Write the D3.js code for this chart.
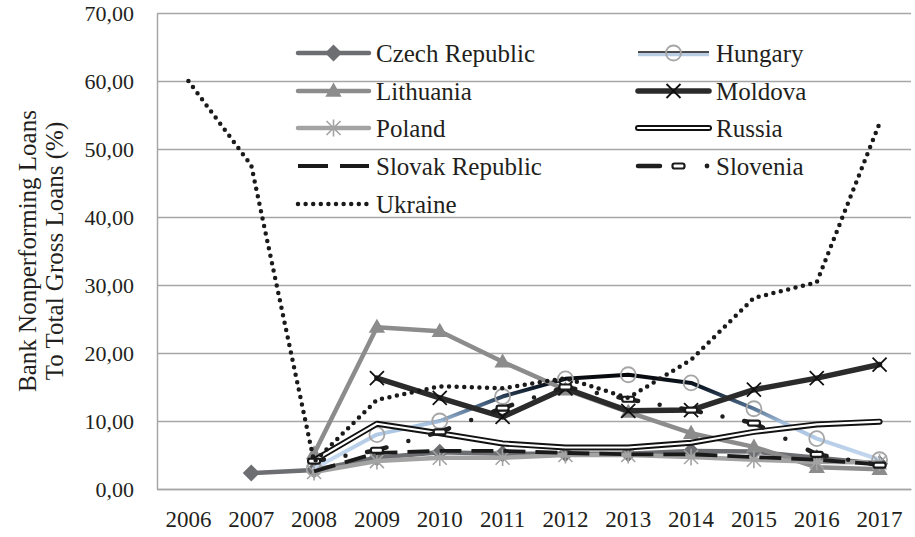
<!DOCTYPE html>
<html>
<head>
<meta charset="utf-8">
<script src="https://cdn.jsdelivr.net/npm/d3@7"></script>
<style>
  html, body { margin: 0; padding: 0; background: #fff; }
  svg { display: block; }
</style>
</head>
<body>
<svg id="chart" width="915" height="537"></svg>
<script>
// ---------- data ----------
const years = ["2006","2007","2008","2009","2010","2011","2012","2013","2014","2015","2016","2017"];
const yTicks = [0, 10, 20, 30, 40, 50, 60, 70];

const czech     = [null, 2.35, 2.8, 4.6, 5.4, 5.2, 5.2, 5.2, 5.6, 5.5, 4.6, 3.7];
const hungary   = [null, null, 3.0, 8.0, 10.0, 13.6, 16.2, 16.8, 15.6, 11.8, 7.4, 4.3];
const lithuania = [null, null, 5.2, 23.8, 23.2, 18.7, 14.6, 11.3, 8.2, 6.2, 3.2, 2.9];
const moldova   = [null, null, null, 16.3, 13.4, 10.6, 14.8, 11.5, 11.6, 14.6, 16.3, 18.3];
const poland    = [null, null, 2.5, 4.1, 4.6, 4.6, 5.0, 5.0, 4.7, 4.3, 4.0, 3.9];
const russia    = [null, null, 4.2, 9.6, 8.2, 6.7, 6.1, 6.1, 6.8, 8.4, 9.5, 9.9];
const slovak    = [null, null, 2.6, 5.3, 5.6, 5.6, 5.3, 5.1, 5.1, 4.7, 4.3, 3.6];
const slovenia  = [null, null, 4.1, 5.7, 8.4, 11.9, 15.0, 13.2, 11.6, 9.7, 5.1, 3.5];
const ukraine   = [60.0, 47.6, 4.0, 13.1, 15.1, 14.8, 16.3, 13.4, 19.0, 28.1, 30.4, 53.8];

const seriesNames = ["Czech Republic","Hungary","Lithuania","Moldova","Poland","Russia","Slovak Republic","Slovenia","Ukraine"];

// ---------- setup ----------
const FONT = "'Liberation Serif', 'Times New Roman', 'DejaVu Serif', serif";
const TXT = "#231f20";
const svg = d3.select("#chart");
const pLeft = 157, pRight = 911, pTop = 13, pBottom = 489;
const x = d3.scaleBand().domain(years).range([pLeft, pRight]);
const cx = yr => x(yr) + x.bandwidth() / 2;
const y = d3.scaleLinear().domain([0, 70]).range([pBottom, pTop]);
const gridColor = "#a6a6a6";

const fmt = v => d3.format(".2f")(v).replace(".", ",");

// y axis with gridlines
const gy = svg.append("g").attr("transform", `translate(${pLeft},0)`)
  .call(d3.axisLeft(y).tickValues(yTicks).tickSize(-(pRight - pLeft)).tickSizeOuter(0).tickPadding(23).tickFormat(fmt));
gy.attr("font-family", null);
gy.selectAll(".tick line").attr("stroke", gridColor).attr("stroke-width", 1.5);
gy.select(".domain").attr("stroke", gridColor).attr("stroke-width", 1.5);
gy.selectAll(".tick text").style("font-family", FONT).style("font-size", "22px").attr("fill", TXT);

// x axis
const gx = svg.append("g").attr("transform", `translate(0,${pBottom})`)
  .call(d3.axisBottom(x).tickSize(0).tickSizeOuter(0).tickPadding(22));
gx.attr("font-family", null);
gx.select(".domain").attr("stroke", gridColor).attr("stroke-width", 1.5);
gx.selectAll(".tick text").style("font-family", FONT).style("font-size", "23px").attr("fill", TXT);

// y title
const title = svg.append("g").attr("transform", `translate(0,${(pTop + pBottom) / 2}) rotate(-90)`)
  .style("font-family", FONT).style("font-size", "25px").attr("fill", TXT);
title.append("text").attr("x", 0).attr("y", 36).attr("text-anchor", "middle").text("Bank Nonperforming Loans");
title.append("text").attr("x", 0).attr("y", 63).attr("text-anchor", "middle").text("To Total Gross Loans (%)");

// gradient for Hungary
const defs = svg.append("defs");
const grad = defs.append("linearGradient").attr("id", "hunGrad")
  .attr("gradientUnits", "userSpaceOnUse")
  .attr("x1", 0).attr("x2", 0).attr("y1", y(17.2)).attr("y2", y(4));
[[0, "#050505"], [0.18, "#101c2b"], [0.38, "#4d6a8a"], [0.58, "#a9c3e0"], [1, "#c6d9f0"]]
  .forEach(([o, c]) => grad.append("stop").attr("offset", o).attr("stop-color", c));

const pts = arr => years.map((yr, i) => ({ yr, v: arr[i] })).filter(d => d.v !== null)
  .map(d => [cx(d.yr), y(d.v)]);
const line = d3.line();

// marker drawers
function marker(g, type, px, py) {
  if (type === "diamond") {
    g.append("rect").attr("x", -6).attr("y", -6).attr("width", 12).attr("height", 12)
      .attr("transform", `translate(${px},${py}) rotate(45)`).attr("fill", "#6d6e71");
  } else if (type === "circle") {
    g.append("circle").attr("cx", px).attr("cy", py).attr("r", 7.5)
      .attr("fill", "none").attr("stroke", "#a6a6a6").attr("stroke-width", 1.8);
  } else if (type === "triangle") {
    g.append("path").attr("d", d3.symbol(d3.symbolTriangle, 115)())
      .attr("transform", `translate(${px},${py + 1})`).attr("fill", "#8c8c8c");
  } else if (type === "x") {
    const r = 7;
    g.append("path").attr("d", `M${px - r},${py - r}L${px + r},${py + r}M${px - r},${py + r}L${px + r},${py - r}`)
      .attr("stroke", "#111").attr("stroke-width", 1.8).attr("fill", "none");
  } else if (type === "star") {
    const r = 7;
    g.append("path").attr("d", `M${px - r},${py - r}L${px + r},${py + r}M${px - r},${py + r}L${px + r},${py - r}M${px},${py - r * 1.2}L${px},${py + r * 1.2}`)
      .attr("stroke", "#a3a3a3").attr("stroke-width", 1.6).attr("fill", "none");
  } else if (type === "dash") {
    g.append("rect").attr("x", px - 6).attr("y", py - 2.5).attr("width", 12).attr("height", 5).attr("rx", 2)
      .attr("fill", "#fff").attr("stroke", "#1a1a1a").attr("stroke-width", 2.2);
  }
}

// Slovenia per-segment dash-dot
function sloveniaSegments(g, p) {
  for (let i = 0; i < p.length - 1; i++) {
    const [x0, y0] = p[i], [x1, y1] = p[i + 1];
    const L = Math.hypot(x1 - x0, y1 - y0);
    const d = Math.min(10, L / 4);
    g.append("path").attr("d", line([p[i], p[i + 1]]))
      .attr("fill", "none").attr("stroke", "#1f1f1f").attr("stroke-width", 4.5)
      .attr("stroke-linecap", "round")
      .attr("stroke-dasharray", `${d},${L / 2 - d},0,${L / 2 - d},${d},${L}`);
  }
}

const plot = svg.append("g");

function drawSeries(g, name, p, isLegend) {
  switch (name) {
    case "Czech Republic":
      g.append("path").attr("d", line(p)).attr("fill", "none").attr("stroke", "#6d6e71").attr("stroke-width", 4.5).attr("stroke-linejoin", "round").attr("stroke-linecap", "round");
      break;
    case "Hungary":
      if (isLegend) {
        g.append("path").attr("d", line(p.map(q => [q[0], q[1] + 1.5]))).attr("stroke", "#b9cde5").attr("stroke-width", 3.5).attr("fill", "none");
        g.append("path").attr("d", line(p.map(q => [q[0], q[1] - 1]))).attr("stroke", "#111").attr("stroke-width", 1.5).attr("fill", "none");
      } else {
        g.append("path").attr("d", line(p)).attr("fill", "none").attr("stroke", "url(#hunGrad)").attr("stroke-width", 4).attr("stroke-linejoin", "round").attr("stroke-linecap", "round");
      }
      break;
    case "Lithuania":
      g.append("path").attr("d", line(p)).attr("fill", "none").attr("stroke", "#8c8c8c").attr("stroke-width", 4.5).attr("stroke-linejoin", "round").attr("stroke-linecap", "round");
      break;
    case "Moldova":
      g.append("path").attr("d", line(p)).attr("fill", "none").attr("stroke", "#2b2b2b").attr("stroke-width", 5.5).attr("stroke-linejoin", "round").attr("stroke-linecap", "round");
      break;
    case "Poland":
      g.append("path").attr("d", line(p)).attr("fill", "none").attr("stroke", "#a3a3a3").attr("stroke-width", 4.5).attr("stroke-linejoin", "round").attr("stroke-linecap", "round");
      break;
    case "Russia":
      g.append("path").attr("d", line(p)).attr("fill", "none").attr("stroke", "#111").attr("stroke-width", 6).attr("stroke-linejoin", "round").attr("stroke-linecap", "round");
      g.append("path").attr("d", line(p)).attr("fill", "none").attr("stroke", "#fff").attr("stroke-width", 2.2).attr("stroke-linejoin", "round").attr("stroke-linecap", "round");
      break;
    case "Slovak Republic":
      g.append("path").attr("d", line(p)).attr("fill", "none").attr("stroke", "#1a1a1a").attr("stroke-width", 3.8).attr("stroke-dasharray", isLegend ? "30,12" : "22,10");
      break;
    case "Slovenia":
      if (isLegend) {
        const [a, b] = p;
        g.append("path").attr("d", line([a, [a[0] + 22, a[1]]])).attr("stroke", "#1f1f1f").attr("stroke-width", 4.5).attr("stroke-linecap", "round");
        g.append("circle").attr("cx", b[0] - 2).attr("cy", b[1]).attr("r", 2.4).attr("fill", "#1f1f1f");
      } else {
        sloveniaSegments(g, p);
      }
      break;
    case "Ukraine":
      g.append("path").attr("d", line(p)).attr("fill", "none").attr("stroke", "#1a1a1a").attr("stroke-width", 4.5).attr("stroke-linecap", "round").attr("stroke-dasharray", "0,7.6");
      break;
  }
}

const markerType = {
  "Czech Republic": "diamond", "Hungary": "circle", "Lithuania": "triangle", "Moldova": "x",
  "Poland": "star", "Russia": null, "Slovak Republic": null, "Slovenia": "dash", "Ukraine": null
};
const dataArrays = [czech, hungary, lithuania, moldova, poland, russia, slovak, slovenia, ukraine];

seriesNames.forEach((name, i) => {
  const g = plot.append("g");
  const p = pts(dataArrays[i]);
  drawSeries(g, name, p, false);
  if (markerType[name]) p.forEach(q => marker(g, markerType[name], q[0], q[1]));
});

// ---------- legend ----------
const legend = svg.append("g");
const colX = [298, 638], rowY = [53, 91, 128, 166, 204];
seriesNames.forEach((name, i) => {
  const col = i % 2, row = Math.floor(i / 2);
  const lx = colX[col], ly = rowY[row];
  const g = legend.append("g");
  const p = [[lx, ly], [lx + 71, ly]];
  drawSeries(g, name, p, true);
  if (markerType[name]) marker(g, markerType[name], lx + 35.5 + (name === "Slovenia" ? 5 : 0), ly);
  g.append("text").attr("x", lx + 78).attr("y", ly + 8.5)
    .style("font-family", FONT).style("font-size", "25px").attr("fill", TXT).text(name);
});
</script>
</body>
</html>
